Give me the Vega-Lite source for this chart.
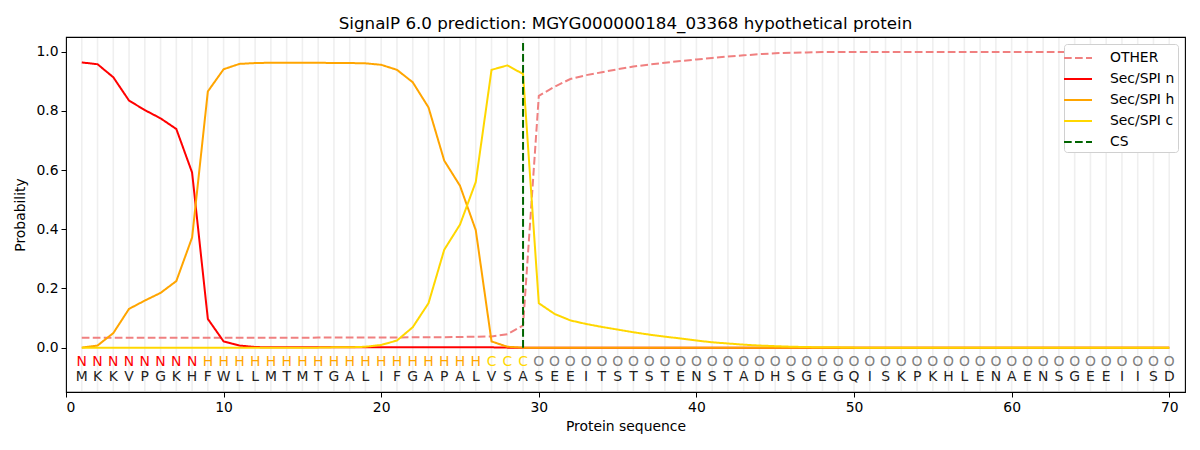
{
  "$schema": "https://vega.github.io/schema/vega-lite/v6.json",
  "autosize": "none",
  "width": 1119,
  "height": 355,
  "padding": {"left": 66, "top": 37, "right": 15, "bottom": 58},
  "background": "white",
  "config": {
    "font": "DejaVu Sans",
    "view": {"stroke": "black", "strokeWidth": 1.1},
    "axis": {"grid": false, "domain": false, "tickColor": "black", "tickSize": 5, "labelFontSize": 13.9, "labelColor": "black", "titleFontSize": 13.9, "titleFontWeight": "normal", "titleColor": "black", "labelPadding": 3}
  },
  "title": {"text": "SignalP 6.0 prediction: MGYG000000184_03368 hypothetical protein", "fontSize": 16.7, "fontWeight": "normal", "color": "black", "offset": 4},
  "datasets": {
    "rows": [
      {"pos": 1, "aa": "M", "lab": "N", "other": 0.033, "n": 0.964, "h": 0.000, "c": 0.000},
      {"pos": 2, "aa": "K", "lab": "N", "other": 0.033, "n": 0.958, "h": 0.007, "c": 0.000},
      {"pos": 3, "aa": "K", "lab": "N", "other": 0.033, "n": 0.914, "h": 0.049, "c": 0.000},
      {"pos": 4, "aa": "V", "lab": "N", "other": 0.033, "n": 0.835, "h": 0.131, "c": 0.000},
      {"pos": 5, "aa": "P", "lab": "N", "other": 0.033, "n": 0.803, "h": 0.159, "c": 0.000},
      {"pos": 6, "aa": "G", "lab": "N", "other": 0.033, "n": 0.775, "h": 0.185, "c": 0.000},
      {"pos": 7, "aa": "K", "lab": "N", "other": 0.033, "n": 0.739, "h": 0.225, "c": 0.000},
      {"pos": 8, "aa": "H", "lab": "N", "other": 0.033, "n": 0.592, "h": 0.372, "c": 0.000},
      {"pos": 9, "aa": "F", "lab": "H", "other": 0.033, "n": 0.097, "h": 0.866, "c": 0.000},
      {"pos": 10, "aa": "W", "lab": "H", "other": 0.033, "n": 0.021, "h": 0.941, "c": 0.000},
      {"pos": 11, "aa": "L", "lab": "H", "other": 0.033, "n": 0.007, "h": 0.959, "c": 0.000},
      {"pos": 12, "aa": "L", "lab": "H", "other": 0.033, "n": 0.002, "h": 0.962, "c": 0.000},
      {"pos": 13, "aa": "M", "lab": "H", "other": 0.033, "n": 0.001, "h": 0.963, "c": 0.000},
      {"pos": 14, "aa": "T", "lab": "H", "other": 0.033, "n": 0.001, "h": 0.963, "c": 0.000},
      {"pos": 15, "aa": "M", "lab": "H", "other": 0.033, "n": 0.001, "h": 0.963, "c": 0.000},
      {"pos": 16, "aa": "T", "lab": "H", "other": 0.034, "n": 0.001, "h": 0.963, "c": 0.000},
      {"pos": 17, "aa": "G", "lab": "H", "other": 0.034, "n": 0.001, "h": 0.962, "c": 0.001},
      {"pos": 18, "aa": "A", "lab": "H", "other": 0.034, "n": 0.001, "h": 0.962, "c": 0.001},
      {"pos": 19, "aa": "L", "lab": "H", "other": 0.034, "n": 0.001, "h": 0.961, "c": 0.003},
      {"pos": 20, "aa": "I", "lab": "H", "other": 0.034, "n": 0.001, "h": 0.956, "c": 0.009},
      {"pos": 21, "aa": "F", "lab": "H", "other": 0.034, "n": 0.001, "h": 0.939, "c": 0.024},
      {"pos": 22, "aa": "G", "lab": "H", "other": 0.035, "n": 0.001, "h": 0.897, "c": 0.069},
      {"pos": 23, "aa": "A", "lab": "H", "other": 0.035, "n": 0.001, "h": 0.812, "c": 0.150},
      {"pos": 24, "aa": "P", "lab": "H", "other": 0.035, "n": 0.001, "h": 0.632, "c": 0.331},
      {"pos": 25, "aa": "A", "lab": "H", "other": 0.036, "n": 0.001, "h": 0.547, "c": 0.416},
      {"pos": 26, "aa": "L", "lab": "H", "other": 0.037, "n": 0.001, "h": 0.397, "c": 0.560},
      {"pos": 27, "aa": "V", "lab": "C", "other": 0.038, "n": 0.001, "h": 0.021, "c": 0.939},
      {"pos": 28, "aa": "S", "lab": "C", "other": 0.045, "n": 0.000, "h": 0.003, "c": 0.954},
      {"pos": 29, "aa": "A", "lab": "C", "other": 0.075, "n": 0.000, "h": 0.000, "c": 0.925},
      {"pos": 30, "aa": "S", "lab": "O", "other": 0.851, "n": 0.000, "h": 0.000, "c": 0.150},
      {"pos": 31, "aa": "E", "lab": "O", "other": 0.882, "n": 0.000, "h": 0.000, "c": 0.114},
      {"pos": 32, "aa": "E", "lab": "O", "other": 0.908, "n": 0.000, "h": 0.000, "c": 0.092},
      {"pos": 33, "aa": "I", "lab": "O", "other": 0.921, "n": 0.000, "h": 0.000, "c": 0.080},
      {"pos": 34, "aa": "T", "lab": "O", "other": 0.931, "n": 0.000, "h": 0.000, "c": 0.070},
      {"pos": 35, "aa": "S", "lab": "O", "other": 0.941, "n": 0.000, "h": 0.000, "c": 0.061},
      {"pos": 36, "aa": "T", "lab": "O", "other": 0.950, "n": 0.000, "h": 0.000, "c": 0.052},
      {"pos": 37, "aa": "S", "lab": "O", "other": 0.957, "n": 0.000, "h": 0.000, "c": 0.044},
      {"pos": 38, "aa": "T", "lab": "O", "other": 0.963, "n": 0.000, "h": 0.000, "c": 0.037},
      {"pos": 39, "aa": "E", "lab": "O", "other": 0.969, "n": 0.000, "h": 0.000, "c": 0.031},
      {"pos": 40, "aa": "N", "lab": "O", "other": 0.974, "n": 0.000, "h": 0.000, "c": 0.024},
      {"pos": 41, "aa": "S", "lab": "O", "other": 0.979, "n": 0.000, "h": 0.000, "c": 0.018},
      {"pos": 42, "aa": "T", "lab": "O", "other": 0.984, "n": 0.000, "h": 0.000, "c": 0.014},
      {"pos": 43, "aa": "A", "lab": "O", "other": 0.988, "n": 0.000, "h": 0.000, "c": 0.010},
      {"pos": 44, "aa": "D", "lab": "O", "other": 0.992, "n": 0.000, "h": 0.000, "c": 0.007},
      {"pos": 45, "aa": "H", "lab": "O", "other": 0.995, "n": 0.000, "h": 0.000, "c": 0.005},
      {"pos": 46, "aa": "S", "lab": "O", "other": 0.997, "n": 0.000, "h": 0.000, "c": 0.003},
      {"pos": 47, "aa": "G", "lab": "O", "other": 0.998, "n": 0.000, "h": 0.000, "c": 0.002},
      {"pos": 48, "aa": "E", "lab": "O", "other": 0.999, "n": 0.000, "h": 0.000, "c": 0.001},
      {"pos": 49, "aa": "G", "lab": "O", "other": 0.999, "n": 0.000, "h": 0.000, "c": 0.001},
      {"pos": 50, "aa": "Q", "lab": "O", "other": 0.999, "n": 0.000, "h": 0.000, "c": 0.000},
      {"pos": 51, "aa": "I", "lab": "O", "other": 0.999, "n": 0.000, "h": 0.000, "c": 0.000},
      {"pos": 52, "aa": "S", "lab": "O", "other": 0.999, "n": 0.000, "h": 0.000, "c": 0.000},
      {"pos": 53, "aa": "K", "lab": "O", "other": 0.999, "n": 0.000, "h": 0.000, "c": 0.000},
      {"pos": 54, "aa": "P", "lab": "O", "other": 0.999, "n": 0.000, "h": 0.000, "c": 0.000},
      {"pos": 55, "aa": "K", "lab": "O", "other": 0.999, "n": 0.000, "h": 0.000, "c": 0.000},
      {"pos": 56, "aa": "H", "lab": "O", "other": 0.999, "n": 0.000, "h": 0.000, "c": 0.000},
      {"pos": 57, "aa": "L", "lab": "O", "other": 0.999, "n": 0.000, "h": 0.000, "c": 0.000},
      {"pos": 58, "aa": "E", "lab": "O", "other": 0.999, "n": 0.000, "h": 0.000, "c": 0.000},
      {"pos": 59, "aa": "N", "lab": "O", "other": 0.999, "n": 0.000, "h": 0.000, "c": 0.000},
      {"pos": 60, "aa": "A", "lab": "O", "other": 0.999, "n": 0.000, "h": 0.000, "c": 0.000},
      {"pos": 61, "aa": "E", "lab": "O", "other": 0.999, "n": 0.000, "h": 0.000, "c": 0.000},
      {"pos": 62, "aa": "N", "lab": "O", "other": 0.999, "n": 0.000, "h": 0.000, "c": 0.000},
      {"pos": 63, "aa": "S", "lab": "O", "other": 0.999, "n": 0.000, "h": 0.000, "c": 0.000},
      {"pos": 64, "aa": "G", "lab": "O", "other": 0.999, "n": 0.000, "h": 0.000, "c": 0.000},
      {"pos": 65, "aa": "E", "lab": "O", "other": 0.999, "n": 0.000, "h": 0.000, "c": 0.000},
      {"pos": 66, "aa": "E", "lab": "O", "other": 0.999, "n": 0.000, "h": 0.000, "c": 0.000},
      {"pos": 67, "aa": "I", "lab": "O", "other": 0.999, "n": 0.000, "h": 0.000, "c": 0.000},
      {"pos": 68, "aa": "I", "lab": "O", "other": 0.999, "n": 0.000, "h": 0.000, "c": 0.000},
      {"pos": 69, "aa": "S", "lab": "O", "other": 0.999, "n": 0.000, "h": 0.000, "c": 0.000},
      {"pos": 70, "aa": "D", "lab": "O", "other": 0.999, "n": 0.000, "h": 0.000, "c": 0.000}
    ],
    "cs": [{"pos": 29, "series": "cs"}]
  },
  "layer": [
    {
      "data": {"name": "rows"},
      "mark": {"type": "rule", "color": "#efefef", "strokeWidth": 1.6},
      "encoding": {
        "x": {"field": "pos", "type": "quantitative", "scale": {"domain": [0, 71], "nice": false, "zero": false}, "axis": {"values": [0, 10, 20, 30, 40, 50, 60, 70], "title": "Protein sequence", "titlePadding": 6}},
        "y": {"datum": -0.147},
        "y2": {"datum": 1.047}
      }
    },
    {
      "data": {"name": "rows"},
      "transform": [{"fold": ["other", "n", "h", "c"], "as": ["series", "prob"]}],
      "mark": {"type": "line", "strokeWidth": 2},
      "encoding": {
        "x": {"field": "pos", "type": "quantitative"},
        "y": {"field": "prob", "type": "quantitative", "scale": {"domain": [-0.15, 1.05], "nice": false, "zero": false}, "axis": {"values": [0, 0.2, 0.4, 0.6, 0.8, 1.0], "format": ".1f", "title": "Probability", "titlePadding": 8}},
        "color": {"field": "series", "type": "nominal", "scale": {"domain": ["other", "n", "h", "c", "cs"], "range": ["#f08080", "#ff0000", "#ffa500", "#ffd700", "#006400"]},
          "legend": {"title": null, "orient": "none", "legendX": 998, "legendY": 7, "labelExpr": "datum.label == 'other' ? 'OTHER' : datum.label == 'n' ? 'Sec/SPI n' : datum.label == 'h' ? 'Sec/SPI h' : datum.label == 'c' ? 'Sec/SPI c' : 'CS'", "symbolType": "M-1.4,0L1.4,0", "symbolSize": 400, "symbolStrokeWidth": 2, "labelFontSize": 13.9, "labelColor": "black", "strokeColor": "#d0d0d0", "fillColor": "white", "padding": 3, "cornerRadius": 3, "rowPadding": 3, "labelOffset": 21}},
        "strokeDash": {"field": "series", "type": "nominal", "scale": {"domain": ["other", "n", "h", "c", "cs"], "range": [[7.7, 3.3], [1, 0], [1, 0], [1, 0], [7.7, 3.3]]},
          "legend": {"title": null, "orient": "none", "legendX": 998, "legendY": 7, "labelExpr": "datum.label == 'other' ? 'OTHER' : datum.label == 'n' ? 'Sec/SPI n' : datum.label == 'h' ? 'Sec/SPI h' : datum.label == 'c' ? 'Sec/SPI c' : 'CS'", "symbolType": "M-1.4,0L1.4,0", "symbolSize": 400, "symbolStrokeWidth": 2, "labelFontSize": 13.9, "labelColor": "black", "strokeColor": "#d0d0d0", "fillColor": "white", "padding": 3, "cornerRadius": 3, "rowPadding": 3, "labelOffset": 21}}
      }
    },
    {
      "data": {"name": "cs"},
      "mark": {"type": "rule", "strokeWidth": 2},
      "encoding": {
        "x": {"field": "pos", "type": "quantitative"},
        "y": {"datum": 0},
        "y2": {"datum": 1.035},
        "color": {"field": "series", "type": "nominal"},
        "strokeDash": {"field": "series", "type": "nominal"}
      }
    },
    {
      "data": {"name": "rows"},
      "transform": [{"filter": "datum.lab == 'N'"}],
      "mark": {"type": "text", "fontSize": 13.9, "color": "#ff0000", "baseline": "middle"},
      "encoding": {"x": {"field": "pos", "type": "quantitative"}, "y": {"datum": -0.047}, "text": {"field": "lab"}}
    },
    {
      "data": {"name": "rows"},
      "transform": [{"filter": "datum.lab == 'H'"}],
      "mark": {"type": "text", "fontSize": 13.9, "color": "#ffa500", "baseline": "middle"},
      "encoding": {"x": {"field": "pos", "type": "quantitative"}, "y": {"datum": -0.047}, "text": {"field": "lab"}}
    },
    {
      "data": {"name": "rows"},
      "transform": [{"filter": "datum.lab == 'C'"}],
      "mark": {"type": "text", "fontSize": 13.9, "color": "#ffd700", "baseline": "middle"},
      "encoding": {"x": {"field": "pos", "type": "quantitative"}, "y": {"datum": -0.047}, "text": {"field": "lab"}}
    },
    {
      "data": {"name": "rows"},
      "transform": [{"filter": "datum.lab == 'O'"}],
      "mark": {"type": "text", "fontSize": 13.9, "color": "#808080", "baseline": "middle"},
      "encoding": {"x": {"field": "pos", "type": "quantitative"}, "y": {"datum": -0.047}, "text": {"field": "lab"}}
    },
    {
      "data": {"name": "rows"},
      "mark": {"type": "text", "fontSize": 13.9, "color": "#222222", "baseline": "middle"},
      "encoding": {"x": {"field": "pos", "type": "quantitative"}, "y": {"datum": -0.099}, "text": {"field": "aa"}}
    }
  ]
}
